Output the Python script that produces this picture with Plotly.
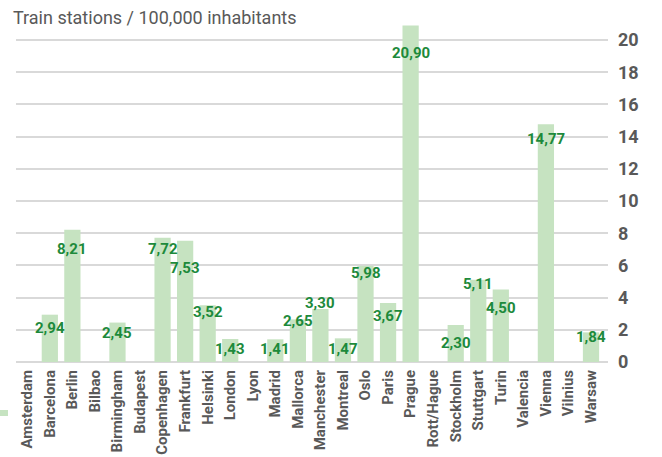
import plotly.graph_objects as go

# Train stations per 100,000 inhabitants, by city
cities = ["Amsterdam", "Barcelona", "Berlin", "Bilbao", "Birmingham", "Budapest",
          "Copenhagen", "Frankfurt", "Helsinki", "London", "Lyon", "Madrid",
          "Mallorca", "Manchester", "Montreal", "Oslo", "Paris", "Prague",
          "Rott/Hague", "Stockholm", "Stuttgart", "Turin", "Valencia", "Vienna",
          "Vilnius", "Warsaw"]
stations = [None, 2.94, 8.21, None, 2.45, None,
            7.72, 7.53, 3.52, 1.43, None, 1.41,
            2.65, 3.30, 1.47, 5.98, 3.67, 20.90,
            None, 2.30, 5.11, 4.50, None, 14.77,
            None, 1.84]
y_ticks = [0, 2, 4, 6, 8, 10, 12, 14, 16, 18, 20]

# vertical nudge (px) of each value label relative to its bar top
label_shift = {
    "Barcelona": -13, "Berlin": -19, "Birmingham": -10, "Copenhagen": -11,
    "Frankfurt": -27, "Helsinki": -7, "London": -10, "Madrid": -10,
    "Mallorca": -2, "Manchester": 6, "Montreal": -11, "Oslo": -7,
    "Paris": -13, "Prague": -27, "Stockholm": -18, "Stuttgart": -4,
    "Turin": -18, "Vienna": -15, "Warsaw": -5,
}

FONT = "Roboto, Arial, sans-serif"
BAR = "#c6e3c1"
LABEL = "#1d8a3b"
GREY = "#595959"

fig = go.Figure(go.Bar(
    x=cities, y=stations, marker=dict(color=BAR, line=dict(width=0)),
    showlegend=False, hoverinfo="x+y",
))

annotations = []
for c, v in zip(cities, stations):
    if v is None:
        continue
    annotations.append(dict(
        x=c, y=v, xref="x", yref="y", text=f"{v:.2f}".replace(".", ","),
        showarrow=False, yshift=label_shift.get(c, -10),
        font=dict(family=FONT, size=15, color=LABEL, weight="bold"),
    ))

fig.update_layout(
    width=662, height=457,
    margin=dict(l=16, r=54, t=24, b=95, autoexpand=False),
    paper_bgcolor="white", plot_bgcolor="white",
    bargap=0.28,
    font=dict(family=FONT, color=GREY),
    title=dict(text="Train stations / 100,000 inhabitants",
               x=13 / 662, xanchor="left", xref="container",
               y=1 - 18 / 457, yanchor="middle", yref="container",
               font=dict(family=FONT, size=18, color=GREY)),
    xaxis=dict(tickangle=-90, showgrid=False, showline=False, ticks="",
               automargin=False, ticklabelstandoff=4,
               tickfont=dict(family=FONT, size=15, color=GREY, weight="bold"),
               fixedrange=True),
    yaxis=dict(side="right", range=[0, 21], tickvals=y_ticks,
               showgrid=True, gridcolor="#d9d9d9", gridwidth=1.5,
               zeroline=True, zerolinecolor="#d9d9d9", zerolinewidth=1.5,
               showline=False, ticks="", ticklabelstandoff=9, automargin=False,
               tickfont=dict(family=FONT, size=18, color=GREY, weight="bold"),
               fixedrange=True),
    annotations=annotations,
    shapes=[dict(type="rect", xref="paper", yref="paper",
                 x0=-16 / 592, x1=-8 / 592,
                 y0=-(410 - 362 + 6) / 338, y1=-(410 - 362) / 338,
                 fillcolor=BAR, line=dict(width=0))],
)

fig.write_html("out.html")
